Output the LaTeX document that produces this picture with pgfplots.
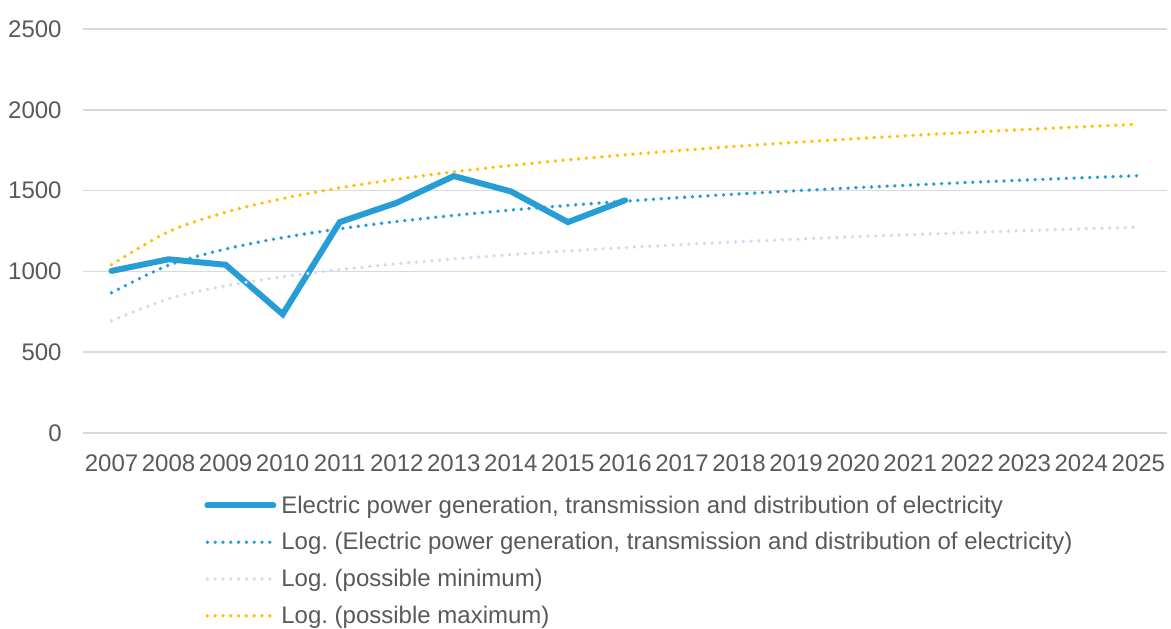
\documentclass[border=0pt]{standalone}
\usepackage{pgfplots}
\pgfplotsset{compat=1.18}
\usepackage{fontspec}
\setmainfont{Liberation Sans}
\frenchspacing
\definecolor{mainblue}{RGB}{39,157,214}
\definecolor{lightblue}{RGB}{204,222,240}
\definecolor{gold}{RGB}{255,192,0}
\definecolor{textgray}{RGB}{89,89,89}
\definecolor{gridgray}{RGB}{217,217,217}
\begin{document}
\begin{tikzpicture}
\useasboundingbox (-41.5pt,-97.5pt) rectangle (544pt,216.5pt);
\begin{axis}[
  scale only axis, width=542pt, height=202pt,
  xmin=2006.5, xmax=2025.5, ymin=0, ymax=2500,
  xtick={2007,...,2025}, ytick={0,500,...,2500},
  /pgf/number format/1000 sep={},
  /pgf/number format/assume math mode=true,
  axis line style={draw=none}, major tick length=0pt,
  ymajorgrids, grid style={gridgray, line width=0.75pt},
  tick label style={font=\fontsize{12}{14}\selectfont, text=textgray},
  yticklabel style={anchor=east, inner sep=0pt, xshift=-10.5pt},
  xticklabel style={anchor=north, inner sep=0pt, yshift=-10.5pt},
  legend cell align=left,
  legend style={draw=none, fill=none, at={(0.1116,-0.1525)}, anchor=north west,
    inner sep=0pt, row sep=6.4pt, column sep=2.5pt,
    font=\fontsize{12}{14}\selectfont\frenchspacing, text=textgray,
    nodes={inner sep=0pt, text height=9pt, text depth=3pt}},
  legend image code/.code={\draw[#1] (0pt,0.8pt) -- (33pt,0.8pt);},
  trend/.style={line width=1.9pt, line cap=round, dash pattern=on 0pt off 3.9pt, smooth},
]
\addplot[mainblue, line width=3pt, line join=miter, line cap=round] coordinates {
 (2007,1003) (2008,1075) (2009,1041) (2010,735) (2011,1305)
 (2012,1425) (2013,1590) (2014,1495) (2015,1305) (2016,1440)};
\addlegendentry{Electric power generation, transmission and distribution of electricity}
\addplot[mainblue, trend] coordinates {
 (2007,868.0) (2008,1038.5) (2009,1138.3) (2010,1209.0) (2011,1263.9)
 (2012,1308.8) (2013,1346.7) (2014,1379.5) (2015,1408.5) (2016,1434.4)
 (2017,1457.9) (2018,1479.3) (2019,1499.0) (2020,1517.2) (2021,1534.2)
 (2022,1550.1) (2023,1565.0) (2024,1579.0) (2025,1592.3)};
\addlegendentry{Log. (Electric power generation, transmission and distribution of electricity)}
\addplot[lightblue, trend] coordinates {
 (2007,694.4) (2008,830.8) (2009,910.6) (2010,967.2) (2011,1011.1)
 (2012,1047.0) (2013,1077.4) (2014,1103.6) (2015,1126.8) (2016,1147.5)
 (2017,1166.3) (2018,1183.4) (2019,1199.2) (2020,1213.8) (2021,1227.4)
 (2022,1240.1) (2023,1252.0) (2024,1263.2) (2025,1273.8)};
\addlegendentry{Log. (possible minimum)}
\addplot[gold, trend] coordinates {
 (2007,1041.6) (2008,1246.2) (2009,1366.0) (2010,1450.8) (2011,1516.7)
 (2012,1570.6) (2013,1616.0) (2014,1655.4) (2015,1690.2) (2016,1721.3)
 (2017,1749.5) (2018,1775.2) (2019,1798.8) (2020,1820.6) (2021,1841.0)
 (2022,1860.1) (2023,1878.0) (2024,1894.8) (2025,1910.8)};
\addlegendentry{Log. (possible maximum)}
\end{axis}
\end{tikzpicture}
\end{document}
